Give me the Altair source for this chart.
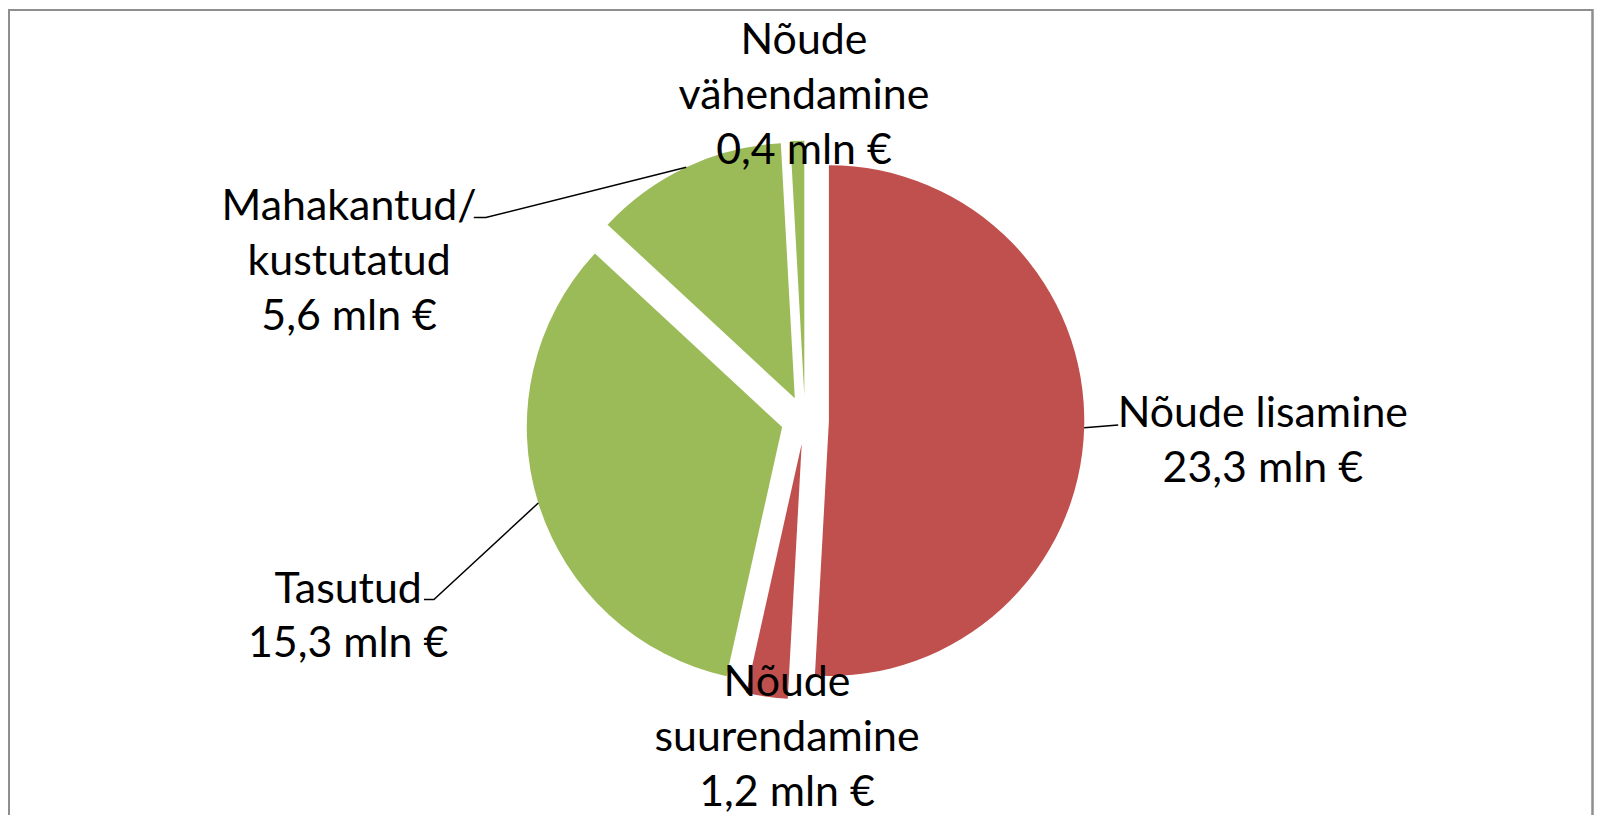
import math
import altair as alt
import pandas as pd

# ---- data -------------------------------------------------------------
categories = ["Nõude lisamine", "Nõude suurendamine", "Tasutud",
              "Mahakantud/kustutatud", "Nõude vähendamine"]
label_names = ["Nõude lisamine", "Nõude\nsuurendamine", "Tasutud",
               "Mahakantud/\nkustutatud", "Nõude\nvähendamine"]
values = [23.3, 1.2, 15.3, 5.6, 0.4]          # mln €
groups = ["suurenemine", "suurenemine", "vähenemine", "vähenemine", "vähenemine"]
group_domain = ["suurenemine", "vähenemine"]
group_colors = ["#C0504D", "#9BBB59"]

# ---- layout (pixels) --------------------------------------------------
W, H = 1590, 808
CX, CY = 799, 412          # pie centre inside the plot area
R = 256                    # pie radius
EXPLODE = 24               # explosion of every slice
FONT = "Lato"
FS = 43
LH = 55
# first-line baseline of each label, relative to the pie centre (u right, v up)
label_pos = [(459, -7), (-18, -277), (-458, -183), (-457, 200), (-1, 367)]
# leader line bends / ends (None = no leader)
leader_bends = [[(314, -5)], None, [(-372, -180), (-382, -180)],
                [(-320, 203), (-332, 203)], None]

# ---- derived tables ----------------------------------------------------
total = sum(values)
rows, text_rows, line_rows = [], [], []
acc = 0.0
for i, (c, v, g) in enumerate(zip(categories, values, groups)):
    t0 = acc / total * 2 * math.pi
    acc += v
    t1 = acc / total * 2 * math.pi
    mid = (t0 + t1) / 2
    du, dv = EXPLODE * math.sin(mid), EXPLODE * math.cos(mid)
    rows.append(dict(cat=c, value=v, group=g, t0=t0, t1=t1, u=du, v=dv))
    lu, lv = label_pos[i]
    txt = label_names[i] + "\n" + f"{v:.1f}".replace(".", ",") + " mln €"
    text_rows.append(dict(cat=c, u=lu, v=lv, label=txt))
    if leader_bends[i]:
        pts = [((EXPLODE + R) * math.sin(mid), (EXPLODE + R) * math.cos(mid))] + leader_bends[i]
        for k, (pu, pv) in enumerate(pts):
            line_rows.append(dict(cat=c, seq=k, u=pu, v=pv))

slices = pd.DataFrame(rows)
labels = pd.DataFrame(text_rows)
leaders = pd.DataFrame(line_rows)

xs = alt.Scale(domain=[-CX, W - CX])
ys = alt.Scale(domain=[CY - H, CY])
X = lambda f: alt.X(f, scale=xs, axis=None)
Y = lambda f: alt.Y(f, scale=ys, axis=None)

pie = alt.Chart(slices).mark_arc(radius=R, stroke=None).encode(
    x=X("u:Q"), y=Y("v:Q"),
    theta=alt.Theta("t0:Q", scale=None),
    theta2=alt.Theta2("t1:Q"),
    color=alt.Color("group:N", scale=alt.Scale(domain=group_domain, range=group_colors), legend=None),
)

lead = alt.Chart(leaders).mark_line(color="black", strokeWidth=1.5).encode(
    x=X("u:Q"), y=Y("v:Q"), detail="cat:N", order="seq:Q",
)

text = alt.Chart(labels).mark_text(
    font=FONT, fontSize=FS, lineBreak="\n", lineHeight=LH,
    align="center", baseline="alphabetic", color="black",
).encode(x=X("u:Q"), y=Y("v:Q"), text="label:N")

one = alt.Data(values=[{}])
bc = "#8E8E8E"
border_l = alt.Chart(one).mark_rule(color=bc, strokeWidth=2).encode(
    x=alt.value(1), y=alt.value(0), y2=alt.value(H))
border_t = alt.Chart(one).mark_rule(color=bc, strokeWidth=2).encode(
    x=alt.value(0), x2=alt.value(W - 1), y=alt.value(1))
border_r = alt.Chart(one).mark_rule(color=bc, strokeWidth=2.5).encode(
    x=alt.value(W - 1.5), y=alt.value(0), y2=alt.value(H))

chart = alt.layer(pie, lead, text, border_l, border_t, border_r).properties(
    width=W, height=H,
    autosize=alt.AutoSizeParams(type="none"),
    padding=0,
    background="white",
).configure_view(stroke=None)

chart.save("out.html", embed_options={"renderer": "svg", "actions": False})
